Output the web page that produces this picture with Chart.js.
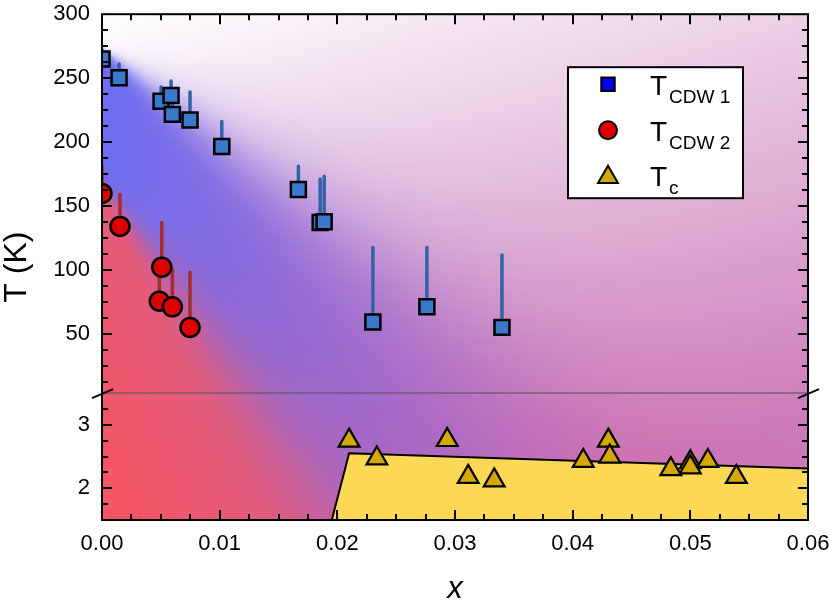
<!DOCTYPE html>
<html>
<head>
<meta charset="utf-8">
<script src="https://cdn.jsdelivr.net/npm/chart.js@4.4.0/dist/chart.umd.min.js"></script>
<style>
  body { margin: 0; background: #fff; }
</style>
</head>
<body>
<canvas id="phaseChart" width="830" height="600"></canvas>
<script>
// ---- data ----
// T_CDW1 (squares) with upper error ends
const cdw1X   = [0.0, 0.00145, 0.00502, 0.00587, 0.00598, 0.00748, 0.01018, 0.01669, 0.01854, 0.01888, 0.02302, 0.02761, 0.03399];
const cdw1T   = [265, 250.3, 231.9, 236.3, 221.6, 217.2, 196.5, 162.8, 137.0, 137.5, 59.1, 71.0, 54.9];
const cdw1Top = [272, 261, 243, 247.7, 232, 239.2, 216, 181, 171, 173.2, 117.5, 117.5, 111.6];

// T_CDW2 (circles)
const cdw2X   = [0.0, 0.00153, 0.00508, 0.00487, 0.00598, 0.00748];
const cdw2T   = [159.7, 133.9, 102.0, 75.4, 71.0, 54.9];
const cdw2Top = [181, 159, 137, 100, 100.7, 98];

// Tc (triangles)
const tcX = [0.0210, 0.02336, 0.02934, 0.03112, 0.03333, 0.0409, 0.04303, 0.04315, 0.04834, 0.0500, 0.0500, 0.05149, 0.05391];
const tcT = [2.75, 2.47, 2.76, 2.18, 2.125, 2.43, 2.75, 2.50, 2.30, 2.41, 2.33, 2.43, 2.18];

// superconducting dome outline
const domeX = [0.01953, 0.0210, 0.06];
const domeT = [1.5, 2.55, 2.3125];

// axes
const xTicks = [0, 0.01, 0.02, 0.03, 0.04, 0.05, 0.06];
const yTopTicks = [50, 100, 150, 200, 250, 300];
const yBotTicks = [2, 3];
const xMinorStep = 0.0025;
const yTopMinorStep = 12.5;
const yBotMinorStep = 0.25;
const yBreak = 3.5;

const FONT = '"Liberation Sans", Arial, sans-serif';

// ---- background colouring ----
const WHITE = [255, 255, 255];
const PINK = [204, 128, 188];
const BLUE = [110, 110, 242];
const MAGENTA = [205, 100, 170];
const RED = [248, 85, 96];
const RED_PINK = [216, 96, 140];

const mix = (a, b, t) => [a[0] + (b[0] - a[0]) * t, a[1] + (b[1] - a[1]) * t, a[2] + (b[2] - a[2]) * t];
const sig = z => 1 / (1 + Math.exp(-z));
const clamp01 = t => Math.max(0, Math.min(1, t));

function shade(u, v, W, H) {
  const upper = mix(WHITE, PINK, clamp01(0.365 * u / W + 0.785 * v / H));
  const blue = mix(BLUE, MAGENTA, clamp01(u / 540));
  const s1 = sig((v - (35 + 0.74 * u)) / (1.5 + 0.15 * u));
  const c = mix(upper, blue, s1);
  const red = mix(RED, RED_PINK, clamp01(u / 260 + 0.9 * (H - v) / H));
  const s2 = sig((v - (170 + 1.34 * u)) / (2.5 + 0.2 * u));
  return mix(c, red, s2);
}

let bgCache = null;
function paintBackground(W, H) {
  const c = document.createElement('canvas');
  c.width = W; c.height = H;
  const g = c.getContext('2d');
  const img = g.createImageData(W, H);
  for (let v = 0; v < H; v++) {
    for (let u = 0; u < W; u++) {
      const col = shade(u, v, W, H);
      const i = (v * W + u) * 4;
      img.data[i] = col[0]; img.data[i + 1] = col[1]; img.data[i + 2] = col[2]; img.data[i + 3] = 255;
    }
  }
  g.putImageData(img, 0, 0);
  return c;
}

const backdrop = {
  id: 'backdrop',
  beforeDatasetsDraw(chart) {
    const a = chart.chartArea, ctx = chart.ctx;
    const W = Math.round(a.right - a.left), H = Math.round(a.bottom - a.top);
    if (!bgCache || bgCache.width !== W || bgCache.height !== H) bgCache = paintBackground(W, H);
    ctx.drawImage(bgCache, a.left, a.top);

    // break line
    const yb = chart.scales.yBot.getPixelForValue(yBreak);
    ctx.save();
    ctx.strokeStyle = 'rgba(90,90,90,0.75)';
    ctx.lineWidth = 1.5;
    ctx.beginPath(); ctx.moveTo(a.left, yb); ctx.lineTo(a.right, yb); ctx.stroke();

    // upward error bars
    ctx.beginPath(); ctx.rect(a.left, a.top, a.right - a.left, a.bottom - a.top); ctx.clip();
    const xs = chart.scales.x, ys = chart.scales.yTop;
    ctx.lineWidth = 3.5;
    ctx.lineCap = 'round';
    const bars = (X, T, Top, color) => {
      ctx.strokeStyle = color;
      X.forEach((x, i) => {
        const px = xs.getPixelForValue(x);
        ctx.beginPath();
        ctx.moveTo(px, ys.getPixelForValue(T[i]));
        ctx.lineTo(px, ys.getPixelForValue(Top[i]));
        ctx.stroke();
      });
    };
    bars(cdw1X, cdw1T, cdw1Top, '#3163a8');
    bars(cdw2X, cdw2T, cdw2Top, '#a82b2b');
    ctx.restore();
  }
};

const frame = {
  id: 'frame',
  afterDraw(chart) {
    const a = chart.chartArea, ctx = chart.ctx;
    const xs = chart.scales.x, yt = chart.scales.yTop, yb = chart.scales.yBot;
    ctx.save();
    ctx.strokeStyle = '#000';
    ctx.lineWidth = 2;
    ctx.strokeRect(a.left, a.top, a.right - a.left, a.bottom - a.top);

    const MAJ = 10, MIN = 6;
    ctx.beginPath();
    // x ticks, bottom and top
    for (let x = 0; x <= 0.06 + 1e-9; x += xMinorStep) {
      const major = Math.abs(x / 0.01 - Math.round(x / 0.01)) < 1e-6;
      const L = major ? MAJ : MIN;
      const px = Math.round(xs.getPixelForValue(x));
      ctx.moveTo(px, a.bottom); ctx.lineTo(px, a.bottom - L);
      ctx.moveTo(px, a.top); ctx.lineTo(px, a.top + L);
    }
    // y ticks, left and right
    const yTick = (scale, v, major) => {
      const py = Math.round(scale.getPixelForValue(v));
      const L = major ? MAJ : MIN;
      ctx.moveTo(a.left, py); ctx.lineTo(a.left + L, py);
      ctx.moveTo(a.right, py); ctx.lineTo(a.right - L, py);
    };
    for (let v = yTopMinorStep; v < 300; v += yTopMinorStep) yTick(yt, v, yTopTicks.includes(v));
    for (let v = 1.5 + yBotMinorStep; v < yBreak - 1e-9; v += yBotMinorStep) yTick(yb, v, yBotTicks.some(t => Math.abs(t - v) < 1e-9));
    ctx.stroke();

    // break marks
    const py = yb.getPixelForValue(yBreak);
    ctx.beginPath();
    ctx.moveTo(a.left - 10, py + 5); ctx.lineTo(a.left + 11, py - 4);
    ctx.moveTo(a.right - 10, py + 5); ctx.lineTo(a.right + 11, py - 4);
    ctx.stroke();

    // axis titles
    ctx.fillStyle = '#000';
    ctx.save();
    ctx.translate(26, (a.top + a.bottom) / 2);
    ctx.rotate(-Math.PI / 2);
    ctx.font = '32px ' + FONT;
    ctx.textAlign = 'center';
    ctx.textBaseline = 'alphabetic';
    ctx.fillText('T (K)', 0, 0);
    ctx.restore();
    ctx.font = 'italic 31px ' + FONT;
    ctx.textAlign = 'center';
    ctx.textBaseline = 'alphabetic';
    ctx.fillText('x', (a.left + a.right) / 2, 598);

    // legend
    const bx = a.right - 240, by = a.top + 53;
    ctx.fillStyle = '#fff';
    ctx.fillRect(bx, by, 175, 131);
    ctx.lineWidth = 2;
    ctx.strokeRect(bx, by, 175, 131);
    const items = [
      { sub: 'CDW 1', style: 'rect', r: 9.5, color: '#0000ee', dy: 28 },
      { sub: 'CDW 2', style: 'circle', r: 9, color: '#dd0000', dy: 74 },
      { sub: 'c', style: 'triangle', r: 11.5, color: '#d4a800', dy: 119 }
    ];
    ctx.textAlign = 'left';
    items.forEach(it => {
      ctx.fillStyle = it.color;
      ctx.strokeStyle = '#000';
      ctx.lineWidth = 2;
      Chart.helpers.drawPoint(ctx, { pointStyle: it.style, radius: it.r, rotation: 0, borderWidth: 2 }, bx + 40, by + it.dy - 11 + (it.style === 'triangle' ? 2 : 0));
      ctx.fillStyle = '#000';
      ctx.font = '28px ' + FONT;
      ctx.fillText('T', bx + 82, by + it.dy);
      ctx.font = '19px ' + FONT;
      ctx.fillText(it.sub, bx + 101, by + it.dy + 8);
    });
    ctx.restore();
  }
};

const pts = (X, T) => X.map((x, i) => ({ x: x, y: T[i] }));
const tickFont = { size: 22, family: FONT };
// keep the plot box fixed: no automatic room for overhanging labels
const noPad = s => { s.paddingTop = 0; s.paddingBottom = 0; s.paddingLeft = 0; s.paddingRight = 0; };

new Chart(document.getElementById('phaseChart'), {
  type: 'scatter',
  data: {
    datasets: [
      {
        type: 'line',
        data: pts(domeX, domeT),
        yAxisID: 'yBot',
        borderColor: '#000',
        borderWidth: 2,
        backgroundColor: '#fdd855',
        fill: 'start',
        pointRadius: 0,
        tension: 0,
        order: 10
      },
      {
        data: pts(cdw1X, cdw1T),
        yAxisID: 'yTop',
        pointStyle: 'rect',
        pointRadius: 10.6,
        pointBackgroundColor: '#3a78cc',
        pointBorderColor: '#000',
        pointBorderWidth: 2.5,
        order: 1
      },
      {
        data: pts(cdw2X, cdw2T),
        yAxisID: 'yTop',
        pointStyle: 'circle',
        pointRadius: 9.5,
        pointBackgroundColor: '#dd0000',
        pointBorderColor: '#000',
        pointBorderWidth: 2.5,
        order: 1
      },
      {
        data: pts(tcX, tcT),
        yAxisID: 'yBot',
        pointStyle: 'triangle',
        pointRadius: 12,
        pointBackgroundColor: '#d4a800',
        pointBorderColor: '#000',
        pointBorderWidth: 2.2,
        order: 1
      }
    ]
  },
  options: {
    responsive: false,
    animation: false,
    devicePixelRatio: 1,
    layout: { padding: { left: 0, right: 22, top: 10, bottom: 0 } },
    plugins: { legend: { display: false }, tooltip: { enabled: false } },
    scales: {
      x: {
        type: 'linear',
        min: 0, max: 0.06,
        grid: { display: false, drawTicks: false },
        border: { display: false },
        ticks: { color: '#000', font: tickFont, padding: 11, callback: v => v.toFixed(2), maxRotation: 0 },
        afterBuildTicks: s => { s.ticks = xTicks.map(v => ({ value: v })); },
        afterFit: s => { s.height = 80; noPad(s); }
      },
      // lower panel first: Chart.js places later left-stacked axes higher
      yBot: {
        type: 'linear',
        position: 'left',
        stack: 'T',
        stackWeight: 128,
        min: 1.5, max: yBreak,
        grid: { display: false, drawTicks: false },
        border: { display: false },
        ticks: { color: '#000', font: tickFont, padding: 12 },
        afterBuildTicks: s => { s.ticks = yBotTicks.map(v => ({ value: v })); },
        afterFit: s => { s.width = 102; noPad(s); }
      },
      yTop: {
        type: 'linear',
        position: 'left',
        stack: 'T',
        stackWeight: 382,
        min: yBreak, max: 300,
        grid: { display: false, drawTicks: false },
        border: { display: false },
        ticks: { color: '#000', font: tickFont, padding: 12 },
        afterBuildTicks: s => { s.ticks = yTopTicks.map(v => ({ value: v })); },
        afterFit: s => { s.width = 102; noPad(s); }
      }
    }
  },
  plugins: [backdrop, frame]
});
</script>
</body>
</html>
